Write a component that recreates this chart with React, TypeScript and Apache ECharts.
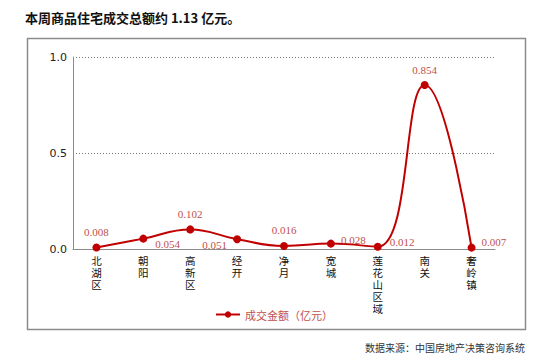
import React, { useEffect, useRef } from "react";
import * as echarts from "echarts";

const categories = ["北湖区", "朝阳", "高新区", "经开", "净月", "宽城", "莲花山区域", "南关", "奢岭镇"];
const values = [0.008, 0.054, 0.102, 0.051, 0.016, 0.028, 0.012, 0.854, 0.007];
const yTicks = [0, 0.5, 1.0];
const seriesName = "成交金额（亿元）";
const titleText = "本周商品住宅成交总额约 1.13 亿元。";
const sourceText = "数据来源：中国房地产决策咨询系统";

const labelPlacement: { position: string; offset: [number, number] }[] = [
  { position: "top", offset: [0, 0] },
  { position: "right", offset: [2, 5] },
  { position: "top", offset: [0, 0] },
  { position: "left", offset: [0, 6] },
  { position: "top", offset: [0, 0] },
  { position: "right", offset: [0, -4] },
  { position: "right", offset: [2, -5] },
  { position: "top", offset: [0, 0] },
  { position: "right", offset: [0, -6] },
];

export default function App() {
  const ref = useRef<HTMLDivElement>(null);
  useEffect(() => {
    if (!ref.current) return;
    const chart = echarts.init(ref.current, null, { renderer: "svg" });
    chart.setOption({
      animation: false,
      backgroundColor: "#fff",
      graphic: [
        {
          type: "rect",
          shape: { x: 27.5, y: 38.5, width: 498, height: 291 },
          style: { fill: "none", stroke: "#8c8c8c", lineWidth: 1.5 },
          silent: true,
        },
        {
          type: "text",
          left: 25,
          top: 11,
          style: {
            text: titleText,
            font: 'bold 13px "Noto Sans CJK SC", sans-serif',
            fill: "#111",
          },
        },
        {
          type: "text",
          right: 24,
          top: 342,
          style: {
            text: sourceText,
            font: '10px "Noto Sans CJK SC", sans-serif',
            fill: "#333",
          },
        },
      ],
      grid: { left: 73, right: 54, top: 57, bottom: 112, containLabel: false },
      legend: {
        data: [seriesName],
        left: 210,
        top: 304,
        itemWidth: 24,
        itemHeight: 8,
        textStyle: {
          color: "#c0504d",
          fontSize: 11,
          fontFamily: '"Noto Sans CJK SC", sans-serif',
        },
      },
      xAxis: {
        type: "category",
        data: categories,
        boundaryGap: true,
        axisLine: { lineStyle: { color: "#8c8c8c", width: 1 } },
        axisTick: { show: false },
        axisLabel: {
          interval: 0,
          color: "#111",
          fontSize: 10.5,
          lineHeight: 12,
          margin: 5,
          fontFamily: '"Noto Sans CJK SC", sans-serif',
          formatter: (v: string) => v.split("").join("\n"),
        },
      },
      yAxis: {
        type: "value",
        min: 0,
        max: 1,
        interval: 0.5,
        axisLine: { show: true, lineStyle: { color: "#8c8c8c", width: 1 } },
        axisTick: { show: false },
        splitLine: { lineStyle: { color: "#777", type: [1, 2], width: 1 } },
        axisLabel: {
          color: "#222",
          fontSize: 11,
          margin: 6,
          fontFamily: '"DejaVu Sans", sans-serif',
          formatter: (v: number) => (yTicks.includes(v) ? v.toFixed(1) : ""),
        },
      },
      series: [
        {
          name: seriesName,
          type: "line",
          smooth: 0.45,
          symbol: "circle",
          symbolSize: 8,
          lineStyle: { color: "#c00000", width: 2 },
          itemStyle: { color: "#c00000" },
          data: values.map((v, i) => ({
            value: v,
            label: {
              show: true,
              position: labelPlacement[i].position,
              offset: labelPlacement[i].offset,
              distance: 6,
              color: "#c0504d",
              fontSize: 11,
              fontFamily: '"Liberation Serif", serif',
              formatter: () => v.toFixed(3),
            },
          })),
        },
      ],
    });
    return () => chart.dispose();
  }, []);
  return <div ref={ref} style={{ width: 549, height: 361, position: "absolute", left: 0, top: 0 }} />;
}
